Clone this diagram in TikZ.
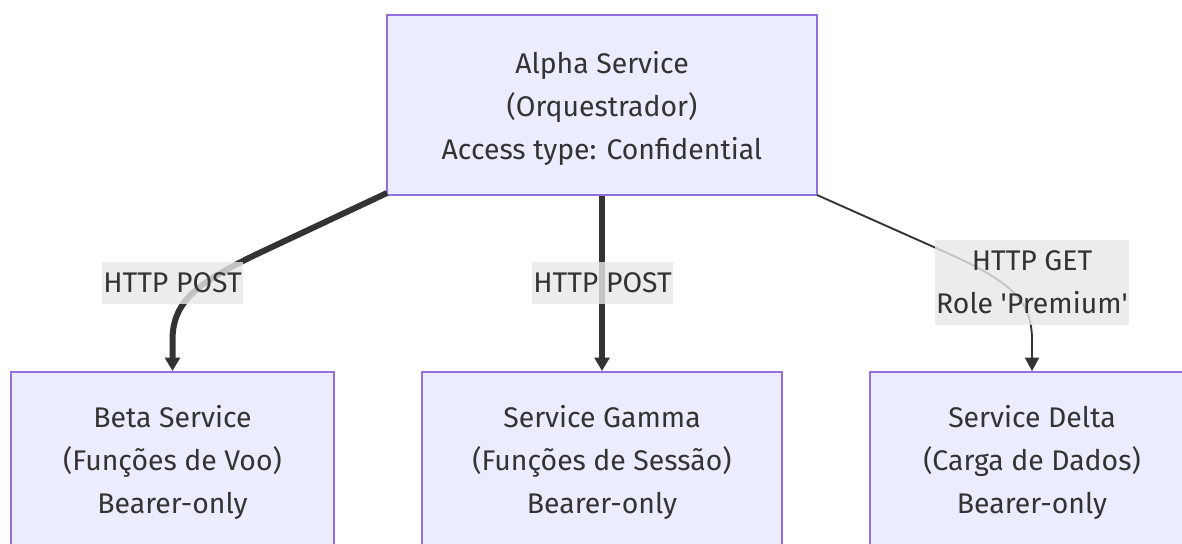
\documentclass[tikz,border=0pt]{standalone}
\usepackage{fontspec}
\setmainfont{Fira Sans}
\usetikzlibrary{arrows.meta}
\definecolor{nodefill}{HTML}{ECECFF}
\definecolor{nodeline}{HTML}{9370DB}
\definecolor{ink}{HTML}{333333}
\definecolor{lblbg}{HTML}{E8E8E8}
\tikzset{
  svc/.style={draw=nodeline, line width=1.5pt, fill=nodefill, inner sep=0pt},
  svctext/.style={text=ink, align=center, font=\fontsize{21.3pt}{32.25pt}\selectfont, inner sep=0pt},
  lbl/.style={fill=lblbg, fill opacity=0.8, text opacity=1, text=ink, align=center,
    font=\fontsize{21.3pt}{32.25pt}\selectfont, inner xsep=1pt, inner ysep=0pt},
  thickedge/.style={draw=ink, line width=4.5pt, -{Triangle[length=10pt,width=11pt]}},
  thinedge/.style={draw=ink, line width=1.4pt, -{Triangle[length=10pt,width=10.5pt]}}
}
\begin{document}
\begin{tikzpicture}[x=0.75pt,y=-0.75pt]
\path[use as bounding box] (0,0) rectangle (1182,543);
\clip (0,0) rectangle (1182,543);
\fill[white] (0,0) rectangle (1182,543);
\node[svc, minimum width=322.5pt, minimum height=135pt] (alpha) at (602,105) {};
\node[svctext] (alphatext) at (602,108) {Alpha Service\\(Orquestrador)\\Access type: Confidential};
\node[svc, minimum width=242.25pt, minimum height=135pt] (beta) at (172.5,462) {};
\node[svctext] (betatext) at (172.5,462) {Beta Service\\(Funções de Voo)\\Bearer-only};
\node[svc, minimum width=270pt, minimum height=135pt] (gamma) at (602,462) {};
\node[svctext] (gammatext) at (602,462) {Service Gamma\\(Funções de Sessão)\\Bearer-only};
\node[svc, minimum width=243pt, minimum height=135pt] (delta) at (1032,462) {};
\node[svctext] (deltatext) at (1032,462) {Service Delta\\(Carga de Dados)\\Bearer-only};
\coordinate (b1) at (387,193);
\coordinate (d1) at (817,195);
\draw[thickedge] (b1) -- (255,255) .. controls (200,282) and (172.5,300) .. (172.5,340) -- (beta.north);
\draw[thickedge] (alpha.south) -- (gamma.north);
\draw[thinedge] (d1) -- (945,252) .. controls (1010,281) and (1032,300) .. (1032,340) -- (delta.north);
\node[lbl, minimum height=31.5pt] (l1) at (172.5,283) {HTTP POST};
\node[lbl, minimum height=31.5pt] (l2) at (602.5,283) {HTTP POST};
\node[lbl, minimum height=63.75pt] (l3) at (1032,282.5) {HTTP GET\\Role \textquotesingle Premium\textquotesingle};
\end{tikzpicture}
\end{document}
